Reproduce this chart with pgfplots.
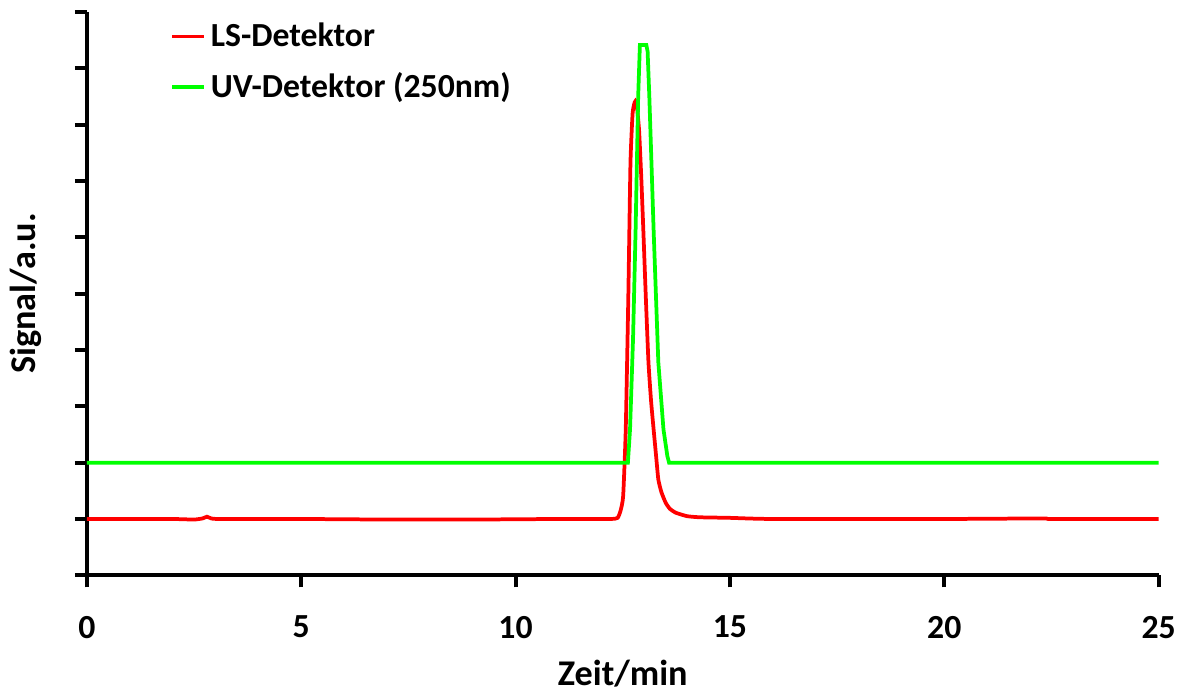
\documentclass[border=0pt]{standalone}
\usepackage{fontspec}
\setmainfont{Carlito}
\usepackage{pgfplots}
\pgfplotsset{compat=1.18}

\definecolor{lsred}{RGB}{255,0,0}
\definecolor{uvgreen}{RGB}{0,255,0}

\begin{document}
\begin{tikzpicture}
\begin{axis}[
    scale only axis,
    width=429.2pt, height=225.6pt,
    xmin=0, xmax=25, ymin=0, ymax=10,
    axis lines*=left,
    axis line style={line width=1.6pt},
    xtick={0,5,...,25},
    ytick={0,1,...,10},
    yticklabels={},
    tick align=outside,
    major tick length=4.8pt,
    every tick/.style={black, line width=1.6pt},
    tick label style={font=\fontsize{13.5}{15}\selectfont\bfseries},
    /pgf/number format/assume math mode=true,
    xticklabel style={yshift=-8pt},
    xlabel={Zeit/min},
    ylabel={Signal/a.u.},
    label style={font=\fontsize{14.5}{16}\selectfont\bfseries},
    xlabel style={yshift=-2pt},
    ylabel style={yshift=3pt},
    clip=false,
    legend style={at={(0.075,0.995)}, anchor=north west, draw=none, fill=none,
        font=\fontsize{13.5}{15}\selectfont\bfseries, row sep=5pt,
        inner sep=1pt},
    legend cell align=left,
    legend image code/.code={\draw[#1] (0cm,0cm) -- (0.45cm,0cm);},
]
% LS detector trace
\addplot[lsred, line width=1.5pt, smooth, tension=0.3] coordinates {
(0,1.0)(1,1.0)(2,1.0)(2.5,0.99)(2.7,1.01)(2.8,1.04)(2.9,1.01)(3.1,1.0)(5,1.0)
(7,0.99)(9,0.99)(11,1.0)(12.2,1.0)(12.38,1.02)(12.45,1.15)(12.51,1.41)
(12.57,2.59)(12.63,4.95)(12.68,7.32)(12.73,8.2)(12.78,8.4)(12.82,8.4)
(12.88,7.91)(12.93,7.1)(12.98,6.13)(13.04,4.9)(13.1,3.78)(13.16,3.1)
(13.22,2.59)(13.28,2.1)(13.33,1.70)(13.4,1.48)(13.5,1.29)(13.6,1.18)
(13.74,1.11)(14.0,1.05)(14.3,1.03)(15,1.02)(16,1.0)(20,1.0)(22.3,1.01)
(22.5,1.0)(25,1.0)
};
\addlegendentry{LS-Detektor}
% UV detector trace
\addplot[uvgreen, line width=1.5pt] coordinates {
(0,2)(12.62,2)(12.67,2.59)(12.74,4.2)(12.80,6.13)(12.86,8.5)(12.90,9.415)
(13.05,9.415)(13.08,9.3)(13.12,8.5)(13.22,6.13)(13.33,3.78)(13.45,2.59)
(13.54,2.12)(13.58,2)(25,2)
};
\addlegendentry{UV-Detektor (250nm)}
\end{axis}
\path ([shift={(-34.8pt,-44.8pt)}]current axis.south west)
  rectangle ([shift={(9.6pt,4.8pt)}]current axis.north east);
\end{tikzpicture}
\end{document}
